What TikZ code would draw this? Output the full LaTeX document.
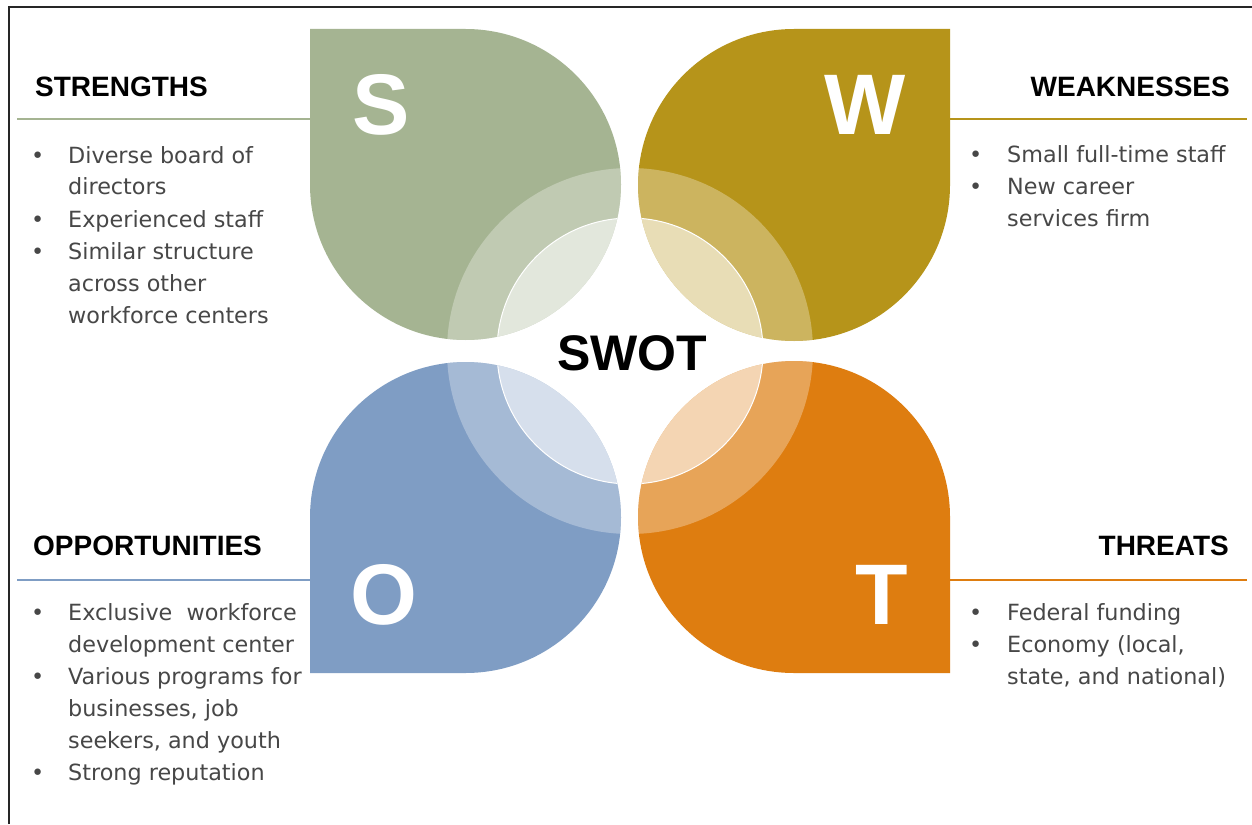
\documentclass[tikz,border=0pt]{standalone}
\usepackage{fontspec}
\setmainfont{DejaVu Sans}
\newfontfamily\headfont{Liberation Sans}

\definecolor{sage}{HTML}{A5B492}
\definecolor{mustard}{HTML}{B6941A}
\definecolor{steel}{HTML}{7F9DC4}
\definecolor{amber}{HTML}{DE7D10}
\definecolor{bodygray}{HTML}{474747}

% the four petals: a circle with one square corner
\newcommand{\petalS}{(310,-184) -- (310,-29) -- (465.5,-29) arc[start angle=90,end angle=-180,radius=155.5] -- cycle}
\newcommand{\petalW}{(950,-184) -- (950,-29) -- (794,-29) arc[start angle=90,end angle=360,radius=156] -- cycle}
\newcommand{\petalO}{(310,-517.5) -- (310,-673) -- (465.5,-673) arc[start angle=-90,end angle=180,radius=155.5] -- cycle}
\newcommand{\petalT}{(950,-517) -- (950,-673) -- (794,-673) arc[start angle=-90,end angle=-360,radius=156] -- cycle}

\tikzset{
  letter/.style={text=white, inner sep=0, font=\headfont\bfseries\fontsize{86}{86}\selectfont},
  heading/.style={inner sep=0, font=\headfont\bfseries\fontsize{28}{28}\selectfont},
  bullets/.style={text=bodygray, inner sep=0, anchor=base west, font=\fontsize{22.3}{32}\selectfont},
  rule/.style={line width=1.3pt}
}

\begin{document}
\begin{tikzpicture}[x=1pt,y=1pt]
\useasboundingbox (0,0) rectangle (1252,-824);
\fill[white] (0,0) rectangle (1252,-824);
\draw[line width=2pt, black!85] (9,-824) -- (9,-7) -- (1252,-7);

\fill[sage] \petalS;
\fill[mustard] \petalW;
\fill[steel] \petalO;
\fill[amber] \petalT;

\begin{scope}
  \clip \petalS \petalW \petalO \petalT;
  \fill[white, fill opacity=0.3] (630,-351) circle[radius=183];
  \fill[white, fill opacity=0.55] (630,-351) circle[radius=133];
  \draw[white, line width=1pt] (630,-351) circle[radius=133];
\end{scope}

\node[letter] (sLetter) at (381,-105) {S};
\node[letter] (wLetter) at (865,-105) {W};
\node[letter] (oLetter) at (384,-595) {O};
\node[letter] (tLetter) at (882,-595) {T};
\node[inner sep=0, font=\headfont\bfseries\fontsize{50}{50}\selectfont] (swot) at (632,-353) {SWOT};

\node[heading, anchor=base west] (sHead) at (35,-97) {STRENGTHS};
\node[heading, anchor=base east] (wHead) at (1230,-97) {WEAKNESSES};
\node[heading, anchor=base west] (oHead) at (33,-555) {OPPORTUNITIES};
\node[heading, anchor=base east] (tHead) at (1229,-555) {THREATS};

\coordinate (sRuleA) at (17,-119);
\coordinate (sRuleB) at (310,-119);
\coordinate (wRuleA) at (950,-119);
\coordinate (wRuleB) at (1247,-119);
\coordinate (oRuleA) at (17,-580);
\coordinate (oRuleB) at (310,-580);
\coordinate (tRuleA) at (950,-580);
\coordinate (tRuleB) at (1247,-580);
\draw[rule, sage] (sRuleA) -- (sRuleB);
\draw[rule, mustard] (wRuleA) -- (wRuleB);
\draw[rule, steel] (oRuleA) -- (oRuleB);
\draw[rule, amber] (tRuleA) -- (tRuleB);

\node[bullets] (sList) at (31,-163) {\begin{tabular}[t]{@{}p{37pt}@{}l@{}}
\textbullet & Diverse board of\\
 & directors\\
\textbullet & Experienced staff\\
\textbullet & Similar structure\\
 & across other\\
 & workforce centers
\end{tabular}};
\node[bullets] (wList) at (969,-162) {\begin{tabular}[t]{@{}p{38pt}@{}l@{}}
\textbullet & Small full-time staff\\
\textbullet & New career\\
 & services firm
\end{tabular}};
\node[bullets] (oList) at (31,-620) {\begin{tabular}[t]{@{}p{37pt}@{}l@{}}
\textbullet & Exclusive~~workforce\\
 & development center\\
\textbullet & Various programs for\\
 & businesses, job\\
 & seekers, and youth\\
\textbullet & Strong reputation
\end{tabular}};
\node[bullets] (tList) at (969,-620) {\begin{tabular}[t]{@{}p{38pt}@{}l@{}}
\textbullet & Federal funding\\
\textbullet & Economy (local,\\
 & state, and national)
\end{tabular}};
\end{tikzpicture}
\end{document}
